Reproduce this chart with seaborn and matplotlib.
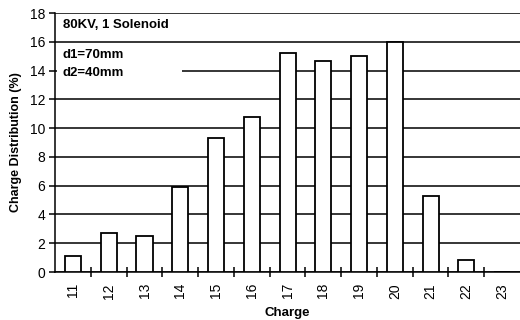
import matplotlib
matplotlib.use("Agg")
import matplotlib.pyplot as plt
import seaborn as sns
from matplotlib.patches import Rectangle

charges = ["11", "12", "13", "14", "15", "16", "17", "18", "19", "20", "21", "22", "23"]
distribution = [1.1, 2.7, 2.5, 5.9, 9.3, 10.8, 15.2, 14.7, 15.0, 16.0, 5.3, 0.8, 0.0]
y_ticks = [0, 2, 4, 6, 8, 10, 12, 14, 16, 18]

sns.set_theme(style="white")
plt.rcParams["font.family"] = ["Liberation Sans", "DejaVu Sans"]

fig = plt.figure(figsize=(5.2, 3.2), dpi=100)
ax = fig.add_axes([0.106, 0.15, 0.894, 0.809])

sns.barplot(x=charges, y=distribution, color="white", edgecolor="black",
            linewidth=1.3, width=0.45, ax=ax, zorder=3, saturation=1)

ax.set_ylim(0, 18)
ax.set_xlim(-0.5, len(charges) - 0.5)
ax.set_yticks(y_ticks)
ax.yaxis.grid(True, color="black", linewidth=1.1, zorder=0)
ax.set_axisbelow(True)

for s in ["top", "right"]:
    ax.spines[s].set_visible(False)
for s in ["left", "bottom"]:
    ax.spines[s].set_color("black")
    ax.spines[s].set_linewidth(1.1)

# ticks
ax.set_xticks(range(len(charges)))
ax.set_xticklabels(charges, rotation=90)
ax.set_xticks([i + 0.5 for i in range(len(charges) - 1)], minor=True)
ax.tick_params(axis="x", which="major", length=0, pad=8, labelsize=10, colors="black")
ax.tick_params(axis="x", which="minor", direction="inout", length=7, width=1.1,
               color="black", bottom=True)
ax.tick_params(axis="y", which="major", direction="out", length=4, width=1.1,
               left=True, labelsize=10, colors="black", pad=3)

ax.set_xlabel("Charge", fontsize=9.5, fontweight="bold", color="black", labelpad=6)
ax.set_ylabel("Charge Distribution (%)", fontsize=9, fontweight="bold", color="black", labelpad=6)

# white box behind annotations (hides the 14 gridline only)
ax.add_patch(Rectangle((0.003, 0.745), 0.27, 0.09, transform=ax.transAxes,
                       facecolor="white", edgecolor="none", zorder=1))
ax.text(0.016, 0.955, "80KV, 1 Solenoid", transform=ax.transAxes, fontsize=9.5,
        fontweight="bold", va="center", ha="left", color="black", zorder=4)
ax.text(0.016, 0.838, "d1=70mm", transform=ax.transAxes, fontsize=9.5,
        fontweight="bold", va="center", ha="left", color="black", zorder=4)
ax.text(0.016, 0.768, "d2=40mm", transform=ax.transAxes, fontsize=9.5,
        fontweight="bold", va="center", ha="left", color="black", zorder=4)

fig.savefig("out.png", dpi=100)
